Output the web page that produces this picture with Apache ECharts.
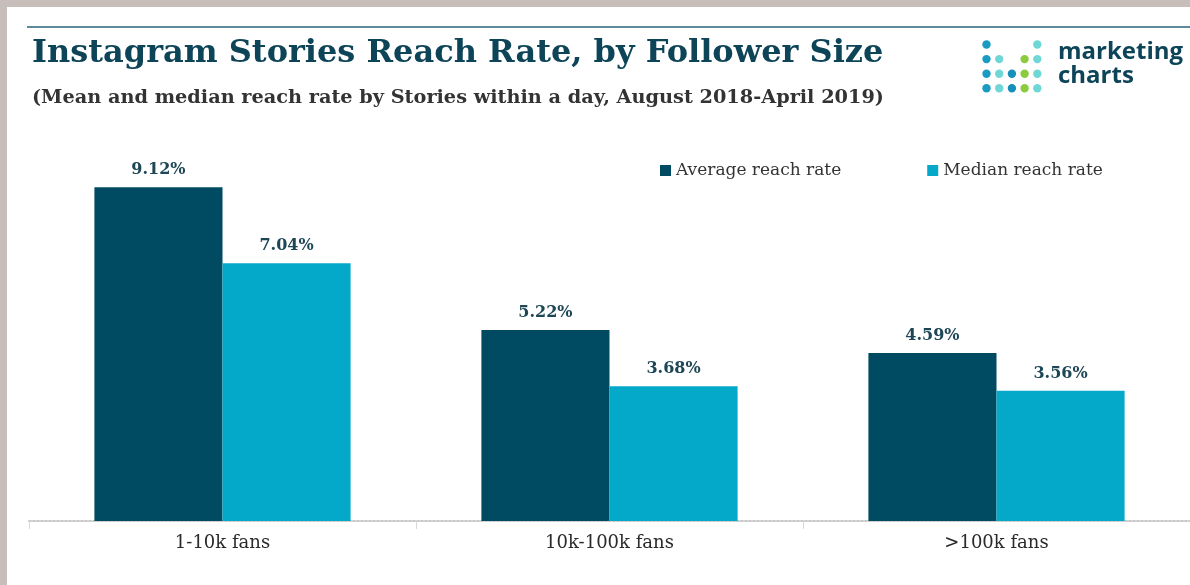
<!DOCTYPE html>
<html><head><meta charset="utf-8">
<script src="https://cdn.jsdelivr.net/npm/echarts@6/dist/echarts.min.js"></script>
<style>html,body{margin:0;padding:0;background:#c8beb9}#c{width:1190px;height:585px}</style>
</head><body><div id="c"></div>
<script>
const categories = ['1-10k fans', '10k-100k fans', '>100k fans'];
const averageReach = [9.12, 5.22, 4.59];
const medianReach = [7.04, 3.68, 3.56];
const seriesNames = ['Average reach rate', 'Median reach rate'];

const chart = echarts.init(document.getElementById('c'), null, {renderer: 'canvas'});
const dark = '#004b62', light = '#04a9c9';
const serif = '"DejaVu Serif", serif';

// logo dots: [col, row, color]
const logoDots = [];
const colColors = ['#1a9cc2', '#6fd8d6', '#1590b9', '#8ccb3e', '#6fd8d6'];
const colRows = [[0,1,2,3],[1,2,3],[2,3],[1,2,3],[0,1,2,3]];
colRows.forEach((rows, ci) => rows.forEach(r => logoDots.push({
  type: 'circle', shape: {cx: 986.5 + ci * 12.7, cy: 44.5 + r * 14.6, r: 4.2},
  style: {fill: colColors[ci]}
})));

const labelStyle = {show: true, position: 'top', distance: 9, formatter: p => p.value.toFixed(2) + '%',
  fontFamily: serif, fontWeight: 'bold', fontSize: 16, color: '#1d4656'};

chart.setOption({
  backgroundColor: '#c8beb9',
  animation: false,
  graphic: [
    {type: 'rect', shape: {x: 7, y: 7, width: 1190, height: 585}, style: {fill: '#ffffff'}, z: -10},
    {type: 'line', shape: {x1: 27, y1: 27, x2: 1190, y2: 27}, style: {stroke: '#5e8b99', lineWidth: 2}},
    {type: 'text', left: 32, top: 38, style: {text: 'Instagram Stories Reach Rate, by Follower Size', font: 'bold 32px ' + serif, fill: '#0d4458'}},
    {type: 'text', left: 32, top: 88, style: {text: '(Mean and median reach rate by Stories within a day, August 2018-April 2019)', font: 'bold 19.3px ' + serif, fill: '#333333'}},
    {type: 'text', left: 1058, top: 40, style: {text: 'marketing', font: 'bold 24px "Open Sans", sans-serif', fill: '#0d4458'}},
    {type: 'text', left: 1058, top: 64, style: {text: 'charts', font: 'bold 24px "Open Sans", sans-serif', fill: '#0d4458'}},
    ...logoDots
  ],
  legend: {
    data: seriesNames,
    left: 655, top: 157, width: 700, orient: 'horizontal',
    itemWidth: 11, itemHeight: 11, itemGap: 86,
    icon: 'rect',
    textStyle: {fontFamily: serif, fontSize: 17, color: '#333333'}
  },
  grid: {left: 29, right: 0, top: 155, bottom: 64},
  xAxis: {
    type: 'category', data: categories,
    axisLine: {lineStyle: {color: '#c8c8c8', type: 'dotted', width: 2}},
    axisTick: {show: true, length: 8, lineStyle: {color: '#d8d8d8', type: 'solid', width: 1}},
    axisLabel: {fontFamily: serif, fontSize: 18, color: '#2a2a2a', margin: 13}
  },
  yAxis: {type: 'value', min: 0, max: 10, show: false, splitLine: {show: false}},
  series: [
    {name: seriesNames[0], type: 'bar', data: averageReach, barGap: '0%', barCategoryGap: '33.8%',
     itemStyle: {color: dark}, label: labelStyle},
    {name: seriesNames[1], type: 'bar', data: medianReach,
     itemStyle: {color: light}, label: labelStyle}
  ]
});
</script></body></html>
